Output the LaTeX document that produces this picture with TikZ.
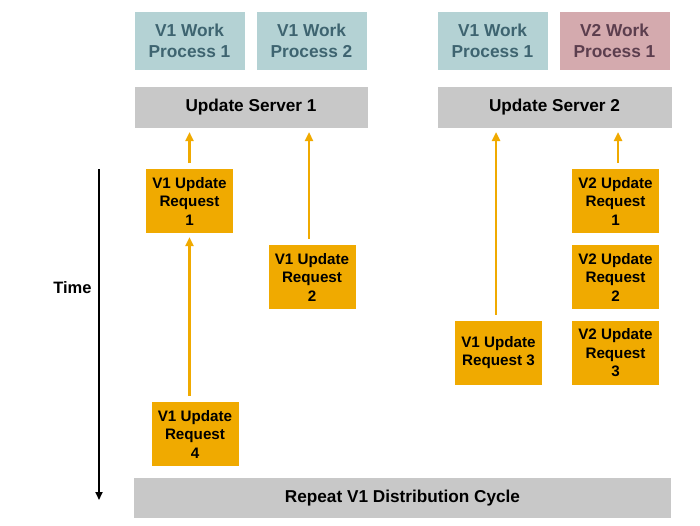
\documentclass[tikz,border=0pt]{standalone}
\usepackage{fontspec}
\setmainfont{Liberation Sans}
\usetikzlibrary{positioning, arrows.meta}

\definecolor{wponefill}{RGB}{180,210,212}
\definecolor{wponetext}{RGB}{62,100,112}
\definecolor{wptwofill}{RGB}{212,170,174}
\definecolor{wptwotext}{RGB}{92,62,78}
\definecolor{serverfill}{RGB}{200,200,200}
\definecolor{reqfill}{RGB}{240,170,0}

\tikzset{
  wpone/.style={fill=wponefill, text=wponetext, minimum width=110pt, minimum height=58pt,
    align=center, outer sep=0pt, inner sep=0pt, font=\fontsize{17.3}{20.5}\selectfont\bfseries},
  wptwo/.style={wpone, fill=wptwofill, text=wptwotext},
  server/.style={fill=serverfill, minimum height=41pt, outer sep=0pt, inner sep=0pt,
    font=\fontsize{17.2}{20}\selectfont\bfseries},
  request/.style={fill=reqfill, minimum width=87pt, minimum height=64pt, align=center,
    outer sep=0pt, inner sep=0pt, font=\fontsize{15.2}{18.5}\selectfont\bfseries},
  flow/.style={draw=reqfill, line width=2.5pt, -{Triangle[length=9pt,width=8pt]},
    shorten <=6pt, shorten >=4pt}
}

\begin{document}
\begin{tikzpicture}[x=1pt, y=-1pt]
		\useasboundingbox (0,0) rectangle (700,525);
		
		% server 1
		\node[wpone] (wp11) at (189.5,41) {V1 Work\\Process 1};
		\node[wpone, right=12pt of wp11] (wp12) {V1 Work\\Process 2};
		\node[server, minimum width=233pt, anchor=north west] (us1) at ([yshift=-17pt]wp11.south west) {Update Server 1};
		
		% server 2
		\node[wpone] (wp21) at (492.5,41) {V1 Work\\Process 1};
		\node[wptwo, right=12pt of wp21] (wp22) {V2 Work\\Process 1};
		\node[server, minimum width=234pt, anchor=north west] (us2) at ([yshift=-17pt]wp21.south west) {Update Server 2};
		
		% requests
		\node[request] (ur11) at (189.5,201) {V1 Update\\Request\\1};
		\node[request] (ur12) at (312,277) {V1 Update\\Request\\2};
		\node[request] (ur13) at (498.5,352.5) {V1 Update\\Request 3};
		\node[request] (ur14) at (195,434) {V1 Update\\Request\\4};
		
		\node[request] (ur21) at (615.5,201) {V2 Update\\Request\\1};
		\node[request, below=12pt of ur21] (ur22) {V2 Update\\Request\\2};
		\node[request, below=12pt of ur22] (ur23) {V2 Update\\Request\\3};
		
		\draw[flow] (ur11) -- (ur11 |- us1.south);
		\draw[flow] (ur12.north -| 309,0) -- (us1.south -| 309,0);
		\draw[flow] (ur14.north -| ur11.south) -- (ur11.south);
		\draw[flow] (ur13.north -| 496,0) -- (us2.south -| 496,0);
		\draw[flow] (ur21.north -| 618,0) -- (us2.south -| 618,0);
		
		% cycle and time
		\node[server, minimum width=537pt, minimum height=40pt] (cycle) at (402.5,498) {Repeat V1 Distribution Cycle};
		
		\coordinate (t0) at (99,169);
		\coordinate (t1) at (99,500);
		\draw[line width=1.8pt, -{Triangle[length=8pt,width=7pt]}] (t0) -- (t1);
		\node[anchor=east, font=\fontsize{16.5}{18}\selectfont\bfseries] (time) at (95,288) {Time};
		
	\end{tikzpicture}
\end{document}
